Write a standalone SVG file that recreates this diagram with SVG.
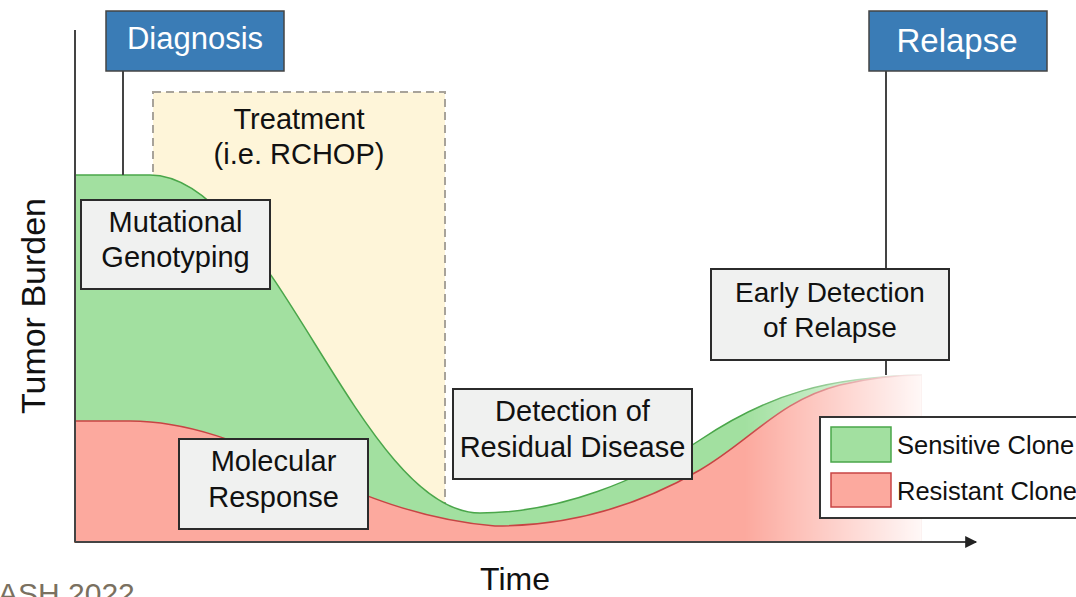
<svg xmlns="http://www.w3.org/2000/svg" width="1076" height="597" viewBox="0 0 1076 597">
<defs>
<style>
text{font-family:"Liberation Sans",Arial,sans-serif;fill:#111}
.box{fill:#f0f1f0;stroke:#2b2b2b;stroke-width:2}
.hdr{fill:#3a7cb6;stroke:#444;stroke-width:1.5}
.hdrt{fill:#fff;font-size:31px;text-anchor:middle}
.lbl{font-size:29px;text-anchor:middle}
.ln{stroke:#444;stroke-width:2;fill:none}
.leg{font-size:25.5px}
</style>
<linearGradient id="fade" gradientUnits="userSpaceOnUse" x1="745" y1="0" x2="922" y2="0">
<stop offset="0" stop-color="#fff" stop-opacity="1"/>
<stop offset="1" stop-color="#fff" stop-opacity="0.08"/>
</linearGradient>
<mask id="m" maskUnits="userSpaceOnUse" x="0" y="0" width="1076" height="597">
<rect x="0" y="0" width="922" height="597" fill="url(#fade)"/>
</mask>
<marker id="arr" viewBox="0 0 10 10" refX="9" refY="5" markerWidth="16" markerHeight="12" markerUnits="userSpaceOnUse" orient="auto">
<path d="M0,0 L10,5 L0,10 Z" fill="#222"/>
</marker>
</defs>
<rect width="1076" height="597" fill="#fff"/>

<g id="treatment">
<rect x="153" y="92" width="292" height="450" fill="#fef5d9" stroke="#a8a39a" stroke-width="2" stroke-dasharray="8,5"/>
<text class="lbl" x="299" y="129">Treatment</text>
<text class="lbl" x="299" y="164">(i.e. RCHOP)</text>
</g>

<g id="curves" mask="url(#m)">
<path id="sensitive" d="M75,542 L75,175 L150,175 C270,175 360,513 480,513 C560,513 640,480 700,440 C770,393 830,377 922,375 L922,542 Z" fill="#a2e0a0" stroke="#4aa64a" stroke-width="1.5"/>
<path id="resistant" d="M75,542 L75,421 L130,421 C250,421 345,514 495,526 C570,526 640,505 700,470 C750,441 780,400 840,385 C870,378 895,375 922,375 L922,542 Z" fill="#fca99e" stroke="#c84444" stroke-width="1.5"/>
</g>

<g id="connectors">
<line class="ln" x1="75" y1="30" x2="75" y2="542"/>
<line class="ln" x1="75" y1="542" x2="976" y2="542" marker-end="url(#arr)"/>
<line class="ln" x1="123" y1="71" x2="123" y2="175"/>
<line class="ln" x1="886" y1="71" x2="886" y2="270"/>
<line class="ln" x1="886" y1="360" x2="886" y2="375"/>
</g>

<g id="diagnosis">
<rect class="hdr" x="106" y="11" width="178" height="60"/>
<text class="hdrt" x="195" y="49">Diagnosis</text>
</g>
<g id="relapse">
<rect class="hdr" x="869" y="11" width="178" height="60"/>
<text class="hdrt" x="957" y="52" style="font-size:33px">Relapse</text>
</g>

<g id="mutational">
<rect class="box" x="81" y="200" width="189" height="89"/>
<text class="lbl" x="175.5" y="232">Mutational</text>
<text class="lbl" x="175.5" y="267">Genotyping</text>
</g>
<g id="molecular">
<rect class="box" x="179" y="439" width="189" height="90"/>
<text class="lbl" x="273.5" y="471">Molecular</text>
<text class="lbl" x="273.5" y="507">Response</text>
</g>
<g id="residual">
<rect class="box" x="453" y="389" width="239" height="90"/>
<text class="lbl" x="572.5" y="421">Detection of</text>
<text class="lbl" x="572.5" y="457">Residual Disease</text>
</g>
<g id="early">
<rect class="box" x="711" y="269" width="238" height="91"/>
<text class="lbl" x="830" y="302" style="font-size:28px">Early Detection</text>
<text class="lbl" x="830" y="337" style="font-size:28px">of Relapse</text>
</g>

<g id="legend">
<rect x="820" y="417" width="270" height="101" fill="#fff" stroke="#333" stroke-width="2"/>
<rect x="831" y="427" width="60" height="35" fill="#a2e0a0" stroke="#4aa64a" stroke-width="1.5"/>
<rect x="831" y="473" width="60" height="34" fill="#fca99e" stroke="#c84444" stroke-width="1.5"/>
<text class="leg" x="897" y="454">Sensitive Clone</text>
<text class="leg" x="897" y="500">Resistant Clone</text>
</g>

<g id="axis-labels">
<text x="0" y="0" transform="translate(45,306) rotate(-90)" style="font-size:34px;text-anchor:middle">Tumor Burden</text>
<text x="515" y="590" style="font-size:32px;text-anchor:middle">Time</text>
<text x="-2" y="604" style="font-size:30px;fill:#7a7060">ASH 2022</text>
</g>
</svg>
